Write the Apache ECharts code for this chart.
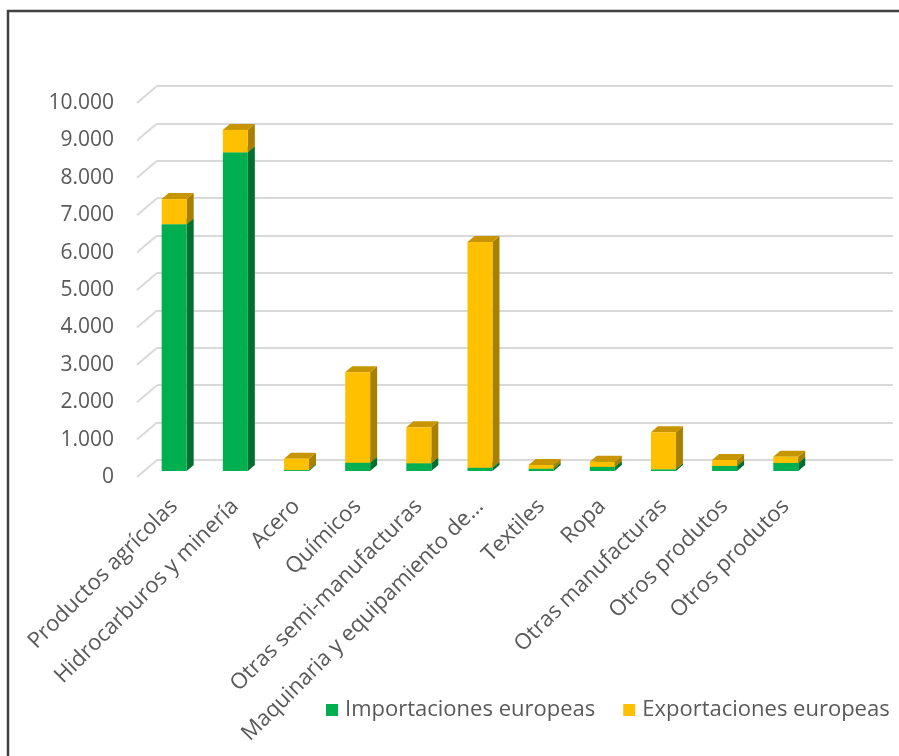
<!DOCTYPE html>
<html>
<head>
<meta charset="utf-8">
<script src="https://cdn.jsdelivr.net/npm/echarts@6/dist/echarts.min.js"></script>
<style>
  html, body { margin: 0; padding: 0; background: #ffffff; }
  #chart { width: 899px; height: 756px; }
</style>
</head>
<body>
<div id="chart"></div>
<script>
// Categories (last slot left empty, as in the source sheet)
const categories = [
  'Productos agrícolas',
  'Hidrocarburos y minería',
  'Acero',
  'Químicos',
  'Otras semi-manufacturas',
  'Maquinaria y equipamiento de…',
  'Textiles',
  'Ropa',
  'Otras manufacturas',
  'Otros produtos',
  'Otros produtos',
  ''
];

// Stacked values
const importaciones = [6600, 8520, 25, 220, 210, 90, 60, 110, 45, 135, 215, null];
const exportaciones = [670, 600, 305, 2420, 960, 6030, 100, 140, 990, 160, 165, null];

// Value axis ticks
const yTicks = [0, 1000, 2000, 3000, 4000, 5000, 6000, 7000, 8000, 9000, 10000];

const SERIES_NAMES = ['Importaciones europeas', 'Exportaciones europeas'];

// Pseudo-3D styling
const DEPTH = [7, -6];          // bar depth offset (x, y)
const WALL = [20, -17];         // side wall depth offset
const BAR_RATIO = 25 / 61.16;   // bar width relative to category band
const COLORS = {
  green: { front: '#00B050', side: '#006F30', top: '#009A45' },
  yellow: { front: '#FFC000', side: '#A97F00', top: '#C79500' }
};

const fmt = v => String(v).replace(/\B(?=(\d{3})+(?!\d))/g, '.');

function barItem(palette) {
  return function (params, api) {
    const idx = api.value(0);
    const base = api.value(1);
    const val = api.value(2);
    if (val == null || isNaN(val) || val <= 0) return;
    const pb = api.coord([idx, base]);
    const pt = api.coord([idx, base + val]);
    const w = api.size([1, 0])[0] * BAR_RATIO;
    const x0 = pb[0] - w / 2, x1 = x0 + w;
    const yb = pb[1], yt = pt[1];
    const dx = DEPTH[0], dy = DEPTH[1];
    return {
      type: 'group',
      children: [
        {
          type: 'polygon',
          shape: { points: [[x1, yb], [x1 + dx, yb + dy], [x1 + dx, yt + dy], [x1, yt]] },
          style: { fill: palette.side }
        },
        {
          type: 'polygon',
          shape: { points: [[x0, yt], [x1, yt], [x1 + dx, yt + dy], [x0 + dx, yt + dy]] },
          style: { fill: palette.top }
        },
        {
          type: 'rect',
          shape: { x: x0, y: yt, width: w, height: yb - yt },
          style: { fill: palette.front }
        }
      ]
    };
  };
}

const importData = categories.map((c, i) => [i, 0, importaciones[i]]);
const exportData = categories.map((c, i) => [i, importaciones[i] || 0, exportaciones[i]]);

const chart = echarts.init(document.getElementById('chart'), null, { renderer: 'canvas' });

const textColor = '#595959';
const fontFamily = '"Open Sans", "Noto Sans", sans-serif';

chart.setOption({
  animation: false,
  backgroundColor: '#ffffff',
  textStyle: { fontFamily: fontFamily },
  graphic: [
    {
      type: 'rect',
      z: -10,
      shape: { x: 8, y: 11, width: 1000, height: 1000 },
      style: { fill: 'none', stroke: '#404040', lineWidth: 2.5 }
    }
  ],
  legend: {
    data: SERIES_NAMES,
    left: 326,
    top: 699,
    width: 573,
    padding: 0,
    icon: 'rect',
    itemWidth: 12,
    itemHeight: 12,
    itemGap: 28,
    textStyle: { color: textColor, fontSize: 22, fontFamily: fontFamily, padding: [0, 0, 0, 2] }
  },
  grid: [
    // bar plane
    { left: 143.6, width: 733.9, top: 97, height: 374 },
    // front plane (value labels + wall edges)
    { left: 137, width: 733.9, top: 103, height: 374 },
    // back wall (gridlines)
    { left: 157, width: 736, top: 86, height: 374 }
  ],
  xAxis: [
    {
      gridIndex: 0,
      type: 'category',
      data: categories,
      boundaryGap: true,
      axisLine: { show: false },
      axisTick: { show: false },
      axisLabel: {
        interval: 0,
        rotate: 45,
        margin: 32,
        color: textColor,
        fontSize: 22,
        fontFamily: fontFamily
      }
    },
    { gridIndex: 1, type: 'value', min: 0, max: 1, show: false },
    { gridIndex: 2, type: 'value', min: 0, max: 1, show: false }
  ],
  yAxis: [
    { gridIndex: 0, type: 'value', min: 0, max: 10000, interval: 1000, show: false },
    {
      gridIndex: 1,
      type: 'value',
      min: yTicks[0],
      max: yTicks[yTicks.length - 1],
      interval: yTicks[1] - yTicks[0],
      axisLine: { show: false },
      axisTick: { show: false },
      splitLine: { show: false },
      axisLabel: {
        margin: 23,
        color: textColor,
        fontSize: 21,
        fontFamily: fontFamily,
        formatter: v => fmt(v)
      }
    },
    {
      gridIndex: 2,
      type: 'value',
      min: yTicks[0],
      max: yTicks[yTicks.length - 1],
      interval: yTicks[1] - yTicks[0],
      axisLine: { show: false },
      axisTick: { show: false },
      axisLabel: { show: false },
      splitLine: { show: true, lineStyle: { color: '#D9D9D9', width: 2 } }
    }
  ],
  series: [
    {
      name: 'wall-edges',
      type: 'custom',
      xAxisIndex: 1,
      yAxisIndex: 1,
      silent: true,
      z: 1,
      data: yTicks.map(v => [0, v]),
      renderItem: function (params, api) {
        const p = api.coord([0, api.value(1)]);
        return {
          type: 'line',
          shape: { x1: p[0], y1: p[1], x2: p[0] + WALL[0], y2: p[1] + WALL[1] },
          style: { stroke: '#D9D9D9', lineWidth: 2 }
        };
      }
    },
    {
      name: SERIES_NAMES[0],
      type: 'custom',
      xAxisIndex: 0,
      yAxisIndex: 0,
      z: 3,
      itemStyle: { color: COLORS.green.front },
      data: importData,
      renderItem: barItem(COLORS.green)
    },
    {
      name: SERIES_NAMES[1],
      type: 'custom',
      xAxisIndex: 0,
      yAxisIndex: 0,
      z: 4,
      itemStyle: { color: COLORS.yellow.front },
      data: exportData,
      renderItem: barItem(COLORS.yellow)
    }
  ]
});
</script>
</body>
</html>
